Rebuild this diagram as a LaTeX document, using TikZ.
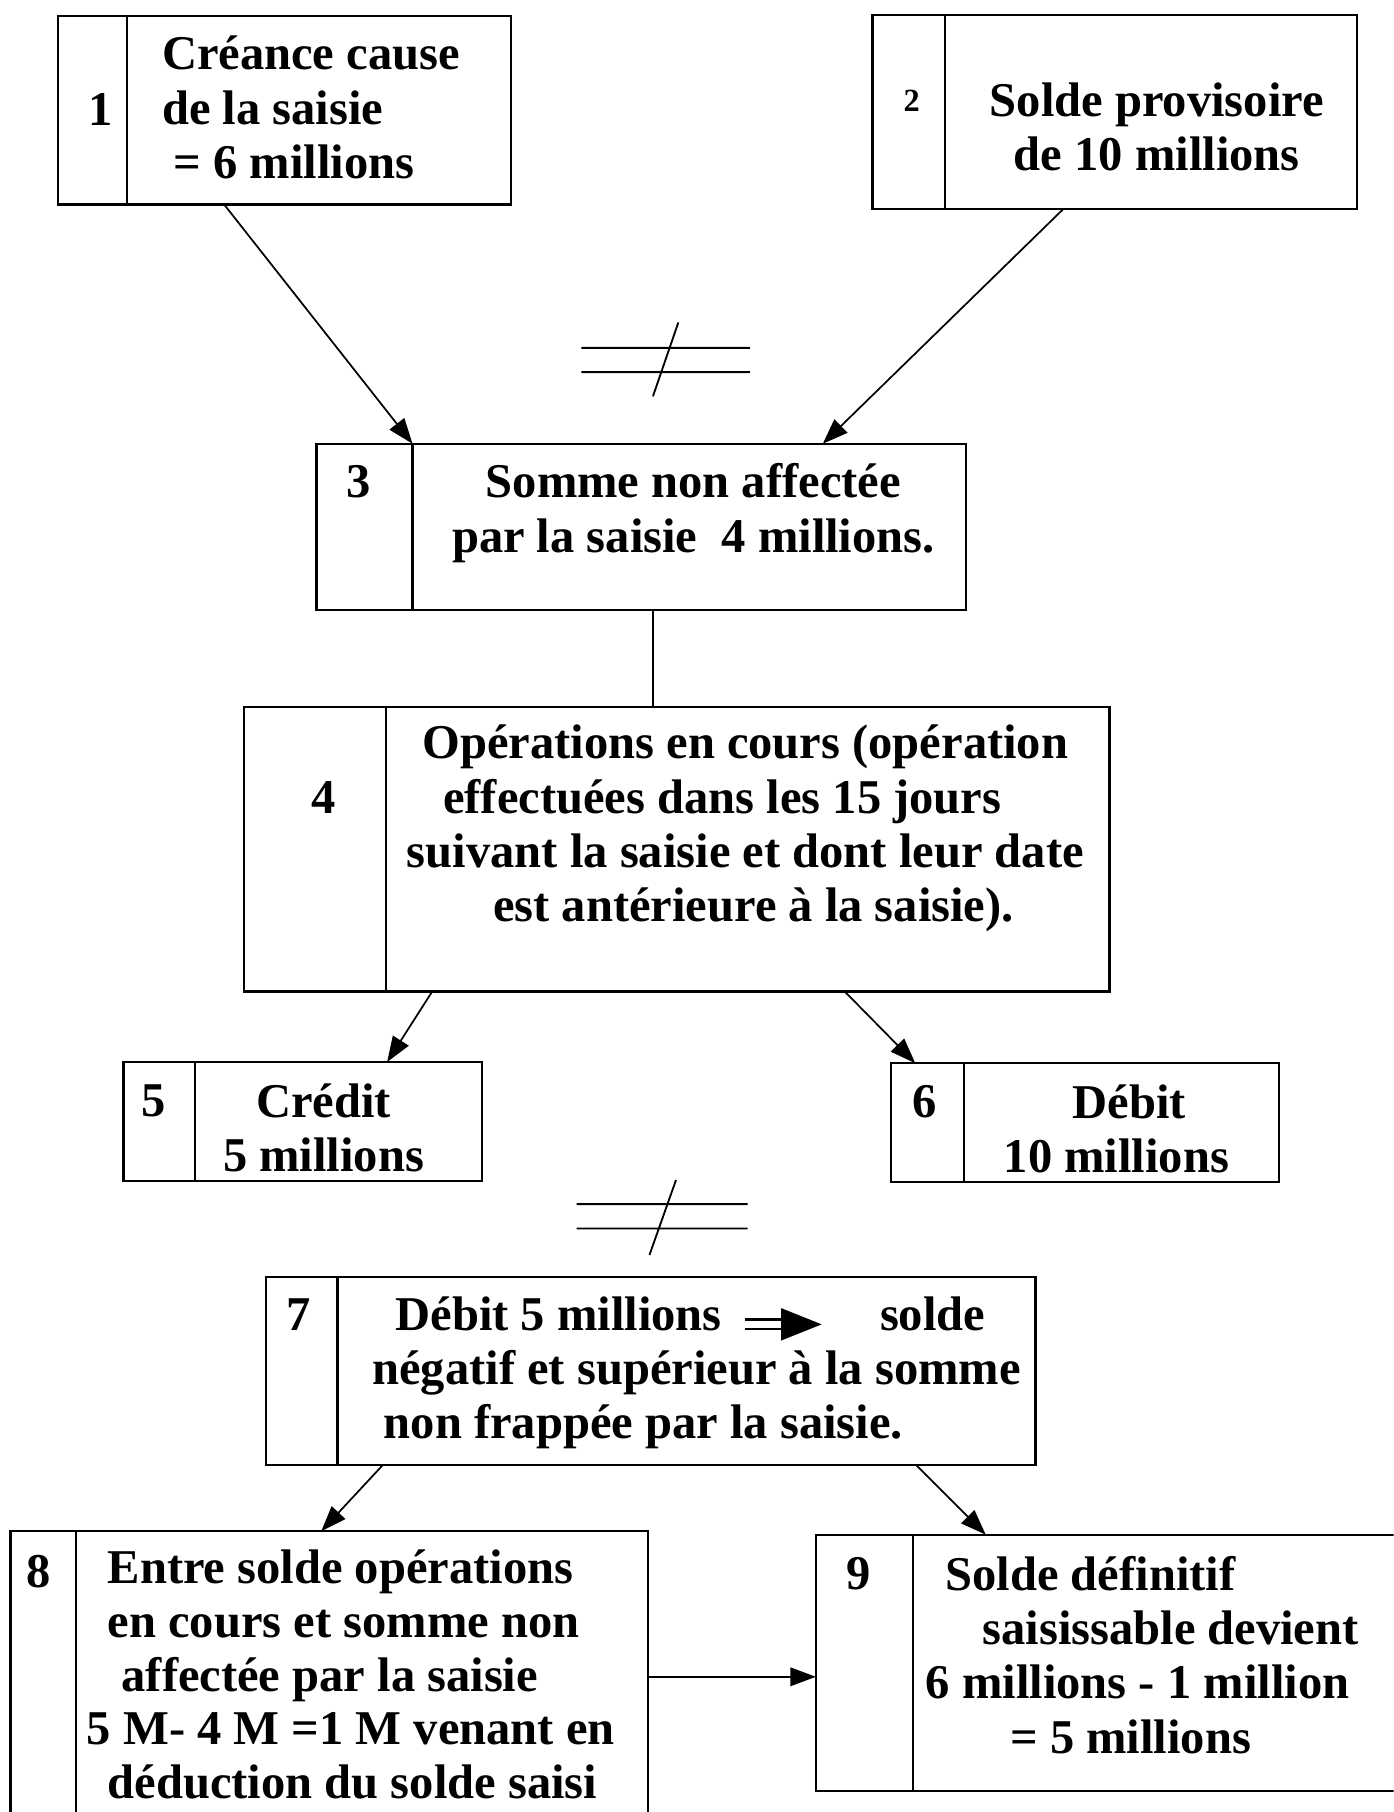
\documentclass[tikz,border=0pt]{standalone}
\usepackage{fontspec}
\setmainfont{Liberation Serif}
\usetikzlibrary{arrows.meta, calc}

\tikzset{
  cell/.style={draw, line width=2pt, inner sep=0pt, outer sep=0pt, anchor=north west},
  num/.style={font=\fontsize{42}{47}\selectfont\bfseries, inner sep=0pt},
  txt/.style={font=\fontsize{42}{47}\selectfont\bfseries, align=center, inner sep=0pt},
  link/.style={line width=1.5pt, -{Triangle[length=22pt,width=16pt]}},
  neq/.style={line width=1.6pt}
}

\begin{document}
\begin{tikzpicture}[x=1pt, y=-1pt]
  \useasboundingbox (0,0) rectangle (1206,1568);
  \clip (0,0) rectangle (1206,1568);

  % Box 1
  \node[cell, minimum width=60pt, minimum height=163pt] (n1) at (50,14) {};
  \node[cell, minimum width=332pt, minimum height=163pt] (c1) at (110,14) {};
  \node[num] (k1) at (87,95) {1};
  \node[txt, align=left, anchor=west] (t1) at (140,93) {Créance cause\\de la saisie\\\hspace*{10pt}= 6 millions};

  % Box 2
  \node[cell, minimum width=63pt, minimum height=168pt] (n2) at (755,13) {};
  \node[cell, minimum width=356pt, minimum height=168pt] (c2) at (818,13) {};
  \node[num, font=\fontsize{28}{32}\selectfont\bfseries] (k2) at (789,87) {2};
  \node[txt] (t2) at (1001,110) {Solde provisoire\\de 10 millions};

  % Box 3
  \node[cell, minimum width=83pt, minimum height=144pt] (n3) at (274,384) {};
  \node[cell, minimum width=479pt, minimum height=144pt] (c3) at (357,384) {};
  \node[num] (k3) at (310,417) {3};
  \node[txt] (t3) at (600,444) {Somme non affectée\\par la saisie\ \ 4 millions.};

  % Box 4
  \node[cell, minimum width=123pt, minimum height=246pt] (n4) at (211,612) {};
  \node[cell, minimum width=626pt, minimum height=246pt] (c4) at (334,612) {};
  \node[num] (k4) at (280,690) {4};
  \node[txt] (t4) at (645,717) {Opérations en cours (opération\\effectuées dans les 15 jours\hspace*{40pt}\mbox{}\\suivant la saisie et dont leur date\\\hspace*{14pt}est antérieure à la saisie).};

  % Box 5 and 6
  \node[cell, minimum width=62pt, minimum height=103pt] (n5) at (107,919) {};
  \node[cell, minimum width=248pt, minimum height=103pt] (c5) at (169,919) {};
  \node[num] (k5) at (133,953) {5};
  \node[txt] (t5) at (280,976) {Crédit\\5 millions};

  \node[cell, minimum width=63pt, minimum height=103pt] (n6) at (771,920) {};
  \node[cell, minimum width=273pt, minimum height=103pt] (c6) at (834,920) {};
  \node[num] (k6) at (800,953) {6};
  \node[txt] (t6) at (966,977) {\hspace*{22pt}Débit\\10 millions};

  % Box 7
  \node[cell, minimum width=62pt, minimum height=163pt] (n7) at (230,1105) {};
  \node[cell, minimum width=604pt, minimum height=163pt] (c7) at (292,1105) {};
  \node[num] (k7) at (258,1138) {7};
  \node[txt, align=left, anchor=west] (t7) at (322,1188) {\hspace*{20pt}Débit 5 millions\hspace{137pt}solde\\négatif et supérieur à la somme\\\hspace*{10pt}non frappée par la saisie.};
  \draw[line width=2.5pt] (645,1142) -- (678,1142);
  \draw[line width=2.5pt] (645,1150) -- (678,1150);
  \fill (676,1132) -- (711,1146) -- (676,1160) -- cycle;

  % Box 8 and 9
  \node[cell, minimum width=57pt, minimum height=260pt] (n8) at (9,1325) {};
  \node[cell, minimum width=495pt, minimum height=260pt] (c8) at (66,1325) {};
  \node[num] (k8) at (33,1360) {8};
  \node[txt, align=left, anchor=west, font=\fontsize{42}{46.5}\selectfont\bfseries] (t8) at (75,1449) {\hspace*{18pt}Entre solde opérations\\\hspace*{18pt}en cours et somme non\\\hspace*{30pt}affectée par la saisie\\5 M- 4 M =1 M venant en\\\hspace*{18pt}déduction du solde saisi};

  \node[cell, minimum width=84pt, minimum height=222pt] (n9) at (706,1328) {};
  \node[cell, minimum width=430pt, minimum height=222pt] (c9) at (790,1328) {};
  \node[num] (k9) at (743,1362) {9};
  \node[txt, align=left, anchor=west] (t9) at (801,1432) {\hspace*{17pt}Solde définitif\\\hspace*{49pt}saisissable devient\\6 millions - 1 million\\\hspace*{73pt}= 5 millions};

  % Connectors
  \draw[link] ($(c1.south west)+(84,0)$) -- (c3.north west);
  \draw[link] ($(c2.south west)+(102,0)$) -- ($(c3.north west)+(355,0)$);
  \coordinate (s3) at ($(c3.south west)+(208,0)$);
  \draw[line width=1.5pt] (s3) -- (s3 |- c4.north);
  \draw[link] ($(c4.south west)+(40,0)$) -- ($(c5.north west)+(166,0)$);
  \draw[link] ($(c4.south west)+(397,0)$) -- ($(n6.north west)+(21,0)$);
  \draw[link] ($(c7.south west)+(39,0)$) -- ($(c8.north west)+(212,0)$);
  \draw[link] ($(c7.south west)+(501,0)$) -- ($(c9.north west)+(63,0)$);
  \coordinate (s8) at ($(c8.north east)+(0,126)$);
  \draw[link] (s8) -- (s8 -| n9.west);

  % Not equal signs
  \draw[neq] (503,301) -- (649,301) (503,322) -- (649,322) (587,279) -- (565,343);
  \draw[neq] (499,1042) -- (647,1042) (499,1063) -- (647,1063) (585,1021) -- (562,1086);
\end{tikzpicture}
\end{document}
